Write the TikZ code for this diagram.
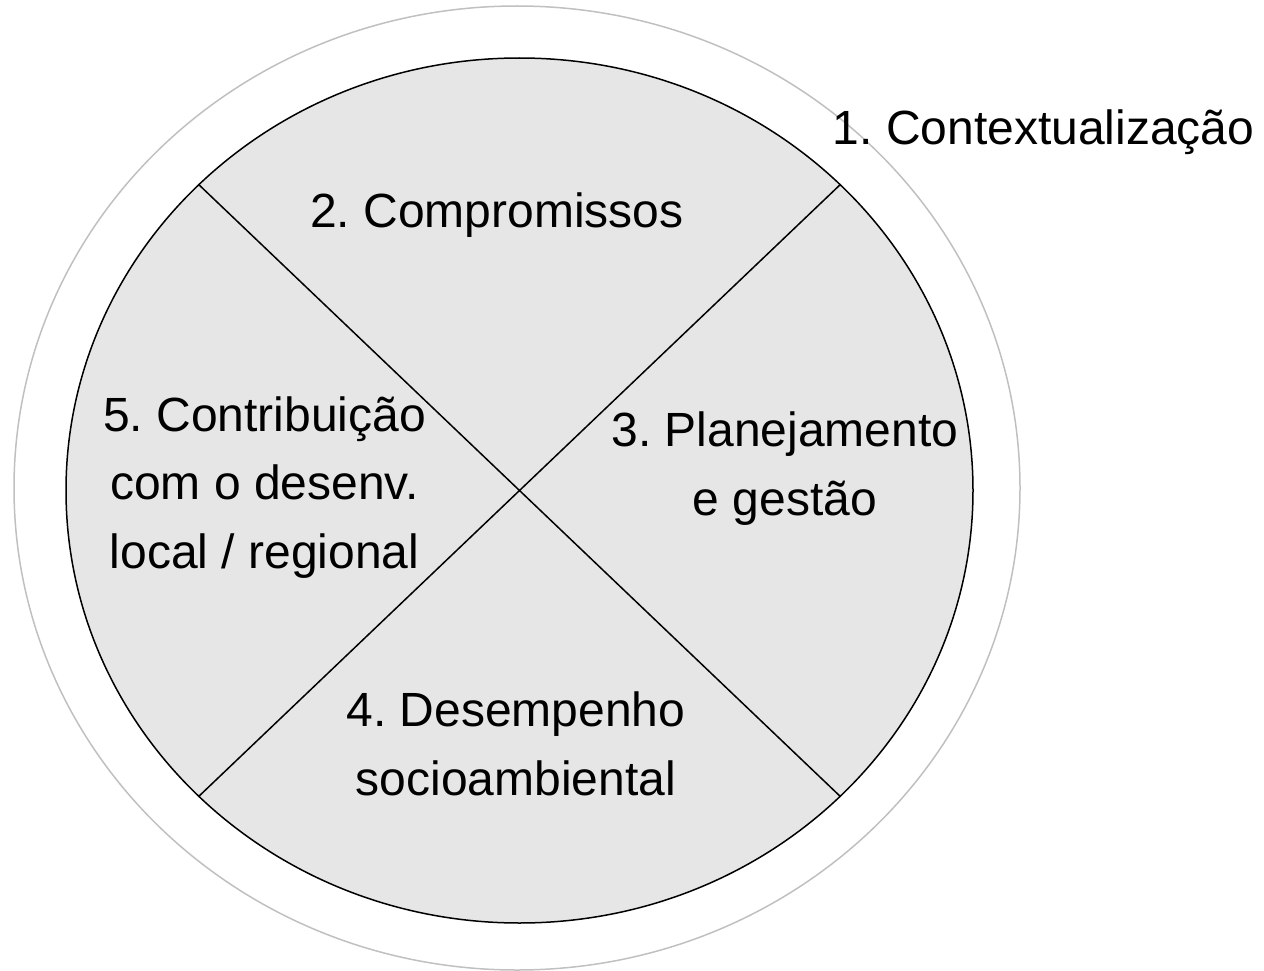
\documentclass[tikz,border=0pt]{standalone}
\usepackage{fontspec}
\setmainfont{Liberation Sans}
\usetikzlibrary{shapes.geometric}
\definecolor{ringgray}{HTML}{C0C0C0}
\definecolor{sectorfill}{HTML}{E6E6E6}
\frenchspacing
\begin{document}
\begin{tikzpicture}[x=1pt,y=-1pt,
  lbl/.style={font=\fontsize{48}{68.5}\selectfont, align=center, inner sep=0pt, anchor=base},
  ring/.style={ellipse, draw=ringgray, line width=1.5pt, inner sep=0pt, outer sep=0pt},
  disc/.style={ellipse, draw=black, fill=sectorfill, line width=1.5pt, inner sep=0pt, outer sep=0pt},
  divider/.style={draw=black, line width=1.5pt}]
\useasboundingbox (0,0) rectangle (1264,971);
\node[ring, minimum width=1006pt, minimum height=964pt] (outer) at (517,488) {};
\node[disc, minimum width=907pt, minimum height=865pt] (inner) at (519.5,490.5) {};
\draw[divider] (inner.north west) -- (inner.south east);
\draw[divider] (inner.north east) -- (inner.south west);
\node[lbl] (c1) at (1043.5,145) {1. Contextualização};
\node[lbl] (c2) at (497,227) {2. Compromissos};
\node[lbl] (c3) at (785,515) {3. Planejamento\\e gestão};
\node[lbl] (c4) at (516,795) {4. Desempenho\\socioambiental};
\node[lbl] (c5) at (264.5,568) {5. Contribuição\\com o desenv.\\local / regional};
\end{tikzpicture}
\end{document}
